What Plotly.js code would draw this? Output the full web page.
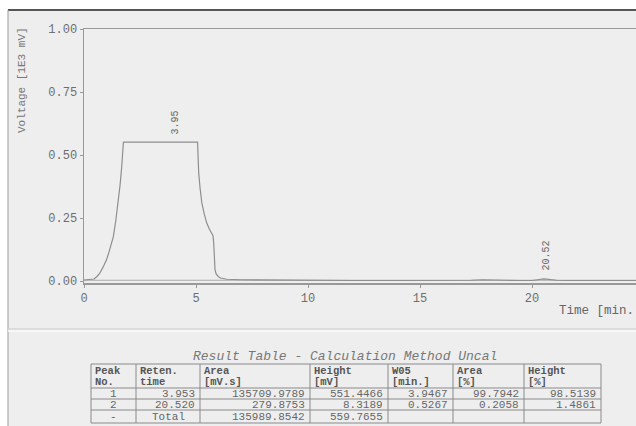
<!DOCTYPE html>
<html>
<head>
<meta charset="utf-8">
<script src="https://cdn.plot.ly/plotly-3.0.1.min.js"></script>
<style>html,body{margin:0;padding:0;background:#fff;}#chart{width:636px;height:426px;}</style>
</head>
<body>
<div id="chart"></div>
<script>
// ---- chromatogram signal (Time [min], Voltage [1E3 mV]) ----
const time = [0, 0.3, 0.45, 0.57, 0.7, 0.85, 1.0, 1.1, 1.2, 1.31, 1.42, 1.53, 1.61, 1.68, 1.73, 1.76, 3.0, 4.5, 5.07, 5.09, 5.12, 5.18, 5.26, 5.37, 5.48, 5.6, 5.7, 5.76, 5.79, 5.82, 5.85, 5.9, 6.0, 6.1, 6.2, 6.37, 7.0, 8.0, 10.0, 12.0, 14.0, 16.0, 17.3, 17.8, 18.3, 18.8, 19.4, 20.0, 20.25, 20.4, 20.52, 20.65, 20.8, 21.1, 21.6, 23.0, 24.7];
const voltage = [0.004, 0.005, 0.008, 0.017, 0.03, 0.055, 0.083, 0.11, 0.14, 0.176, 0.24, 0.31, 0.38, 0.45, 0.51, 0.551, 0.551, 0.551, 0.551, 0.5, 0.43, 0.37, 0.31, 0.265, 0.23, 0.205, 0.19, 0.18, 0.15, 0.09, 0.044, 0.028, 0.017, 0.012, 0.01, 0.007, 0.005, 0.004, 0.003, 0.002, 0.002, 0.002, 0.003, 0.005, 0.005, 0.003, 0.002, 0.002, 0.005, 0.0075, 0.0083, 0.0075, 0.006, 0.003, 0.002, 0.002, 0.002];

// ---- axis ticks ----
const xTickVals = [0, 5, 10, 15, 20];
const xTickText = ['0', '5', '10', '15', '20'];
const yTickVals = [0, 0.25, 0.5, 0.75, 1.0];
const yTickText = ['0.00', '0.25', '0.50', '0.75', '1.00'];

// ---- peak annotations ----
const peakTimes = [3.95, 20.52];
const peakLabels = ['3.95', '20.52'];

// ---- result table ----
const tableTitle = 'Result Table - Calculation Method Uncal';
const headerLine1 = ['Peak', 'Reten.', 'Area', 'Height', 'W05', 'Area', 'Height'];
const headerLine2 = ['No.', 'time', '[mV.s]', '[mV]', '[min.]', '[%]', '[%]'];
const peakNo = ['1', '2', '-'];
const retTime = ['3.953', '20.520', 'Total'];
const areaMVs = ['135709.9789', '279.8753', '135989.8542'];
const heightMV = ['551.4466', '8.3189', '559.7655'];
const w05 = ['3.9467', '0.5267', ''];
const areaPct = ['99.7942', '0.2058', ''];
const heightPct = ['98.5139', '1.4861', ''];
const peakHeightsMV = [551.4466, 8.3189];

// ---- layout helpers (figure pixels -> paper fractions) ----
const W = 636, H = 426;
const px = p => p / W;
const py = p => 1 - p / H;
const mono = 'Liberation Mono, Courier New, monospace';
const ink = '#6e6e6e';

const shapes = [];
const annotations = [];

// scanned paper background
shapes.push({type: 'rect', xref: 'paper', yref: 'paper', x0: px(8), x1: px(640), y0: py(10), y1: py(430),
  fillcolor: '#eeeeee', line: {width: 0}, layer: 'below'});
shapes.push({type: 'line', xref: 'paper', yref: 'paper', x0: px(8), x1: px(640), y0: py(10), y1: py(10),
  line: {color: '#555', width: 2}, layer: 'below'});
shapes.push({type: 'line', xref: 'paper', yref: 'paper', x0: px(8), x1: px(8), y0: py(10), y1: py(430),
  line: {color: '#999', width: 1}, layer: 'below'});
// fold
shapes.push({type: 'line', xref: 'paper', yref: 'paper', x0: px(8), x1: px(640), y0: py(329), y1: py(329),
  line: {color: '#d6d6d6', width: 1.5}, layer: 'below'});
shapes.push({type: 'line', xref: 'paper', yref: 'paper', x0: px(8), x1: px(640), y0: py(331), y1: py(331),
  line: {color: '#fafafa', width: 1.5}, layer: 'below'});

// axis titles
annotations.push({xref: 'paper', yref: 'paper', x: px(22), y: py(80), text: 'Voltage [1E3 mV]', textangle: -90,
  showarrow: false, xanchor: 'center', yanchor: 'middle', font: {family: mono, size: 11, color: '#777'}});
annotations.push({xref: 'paper', yref: 'paper', x: px(557), y: py(311), text: 'Time [min.', showarrow: false,
  xanchor: 'left', yanchor: 'middle', font: {family: mono, size: 12.5, color: '#666'}});

// peak labels
peakTimes.forEach((t, i) => {
  annotations.push({x: t, y: peakHeightsMV[i] / 1000, xref: 'x', yref: 'y', text: peakLabels[i], textangle: -90,
    showarrow: false, xanchor: 'center', yanchor: 'bottom', yshift: 6, xshift: 3,
    font: {family: mono, size: 10, color: '#666'}});
});

// table
const colX = [91, 136, 200, 310, 388, 453, 524, 601];
const rowY = [364, 388, 399, 410, 423];
const headerY = [370.5, 381.5];
const bodyY = [394, 405, 416.5];
const tfs = 10;
annotations.push({xref: 'paper', yref: 'paper', x: px(345), y: py(356), text: '<i>' + tableTitle + '</i>',
  showarrow: false, xanchor: 'center', yanchor: 'middle', font: {family: mono, size: 13, color: '#777'}});
rowY.forEach(y => shapes.push({type: 'line', xref: 'paper', yref: 'paper', x0: px(colX[0]), x1: px(colX[colX.length - 1]),
  y0: py(y), y1: py(y), line: {color: '#8a8a8a', width: 1}}));
colX.forEach(x => shapes.push({type: 'line', xref: 'paper', yref: 'paper', x0: px(x), x1: px(x),
  y0: py(rowY[0]), y1: py(rowY[rowY.length - 1]), line: {color: '#8a8a8a', width: 1}}));
headerLine1.forEach((h, c) => {
  [h, headerLine2[c]].forEach((txt, r) => {
    annotations.push({xref: 'paper', yref: 'paper', x: px(colX[c] + 3), y: py(headerY[r]), text: '<b>' + txt + '</b>',
      showarrow: false, xanchor: 'left', yanchor: 'middle', borderpad: 0,
      font: {family: mono, size: tfs + 0.5, color: '#555'}});
  });
});
const columns = [peakNo, retTime, areaMVs, heightMV, w05, areaPct, heightPct];
columns.forEach((col, c) => {
  col.forEach((txt, r) => {
    if (!txt) return;
    const centered = c === 0 || txt === 'Total';
    annotations.push({xref: 'paper', yref: 'paper',
      x: centered ? px((colX[c] + colX[c + 1]) / 2) : px(colX[c + 1] - 4),
      y: py(bodyY[r]), text: txt, showarrow: false, borderpad: 0,
      xanchor: centered ? 'center' : 'right', yanchor: 'middle',
      font: {family: mono, size: tfs + 1, color: '#666'}});
  });
});

const trace = {x: time, y: voltage, type: 'scatter', mode: 'lines',
  line: {color: '#8e8e8e', width: 1.2}, hoverinfo: 'skip'};
const zeroLine = {x: [0, 24.7], y: [0.003, 0.003], type: 'scatter', mode: 'lines',
  line: {color: '#aaa', width: 1}, hoverinfo: 'skip'};

const layout = {
  width: W, height: H,
  margin: {l: 0, r: 0, t: 0, b: 0},
  paper_bgcolor: '#ffffff',
  plot_bgcolor: 'rgba(0,0,0,0)',
  showlegend: false,
  xaxis: {domain: [px(84), 1], range: [0, 552 / 22.4], showgrid: false, zeroline: false,
    showline: true, mirror: true, linecolor: '#999', linewidth: 1.5,
    tickmode: 'array', tickvals: xTickVals, ticktext: xTickText, ticks: 'outside', ticklen: 3,
    tickcolor: '#999', tickfont: {family: mono, size: 12, color: ink}},
  yaxis: {domain: [1 - 283 / H, 1 - 29 / H], range: [-0.0079, 1.0], showgrid: false, zeroline: false,
    showline: true, linecolor: '#999', linewidth: 1.5,
    tickmode: 'array', tickvals: yTickVals, ticktext: yTickText, ticks: 'outside', ticklen: 3,
    tickcolor: '#999', tickfont: {family: mono, size: 12, color: ink}},
  shapes: shapes,
  annotations: annotations
};

Plotly.newPlot('chart', [zeroLine, trace], layout, {displayModeBar: false, staticPlot: true});
</script>
</body>
</html>
